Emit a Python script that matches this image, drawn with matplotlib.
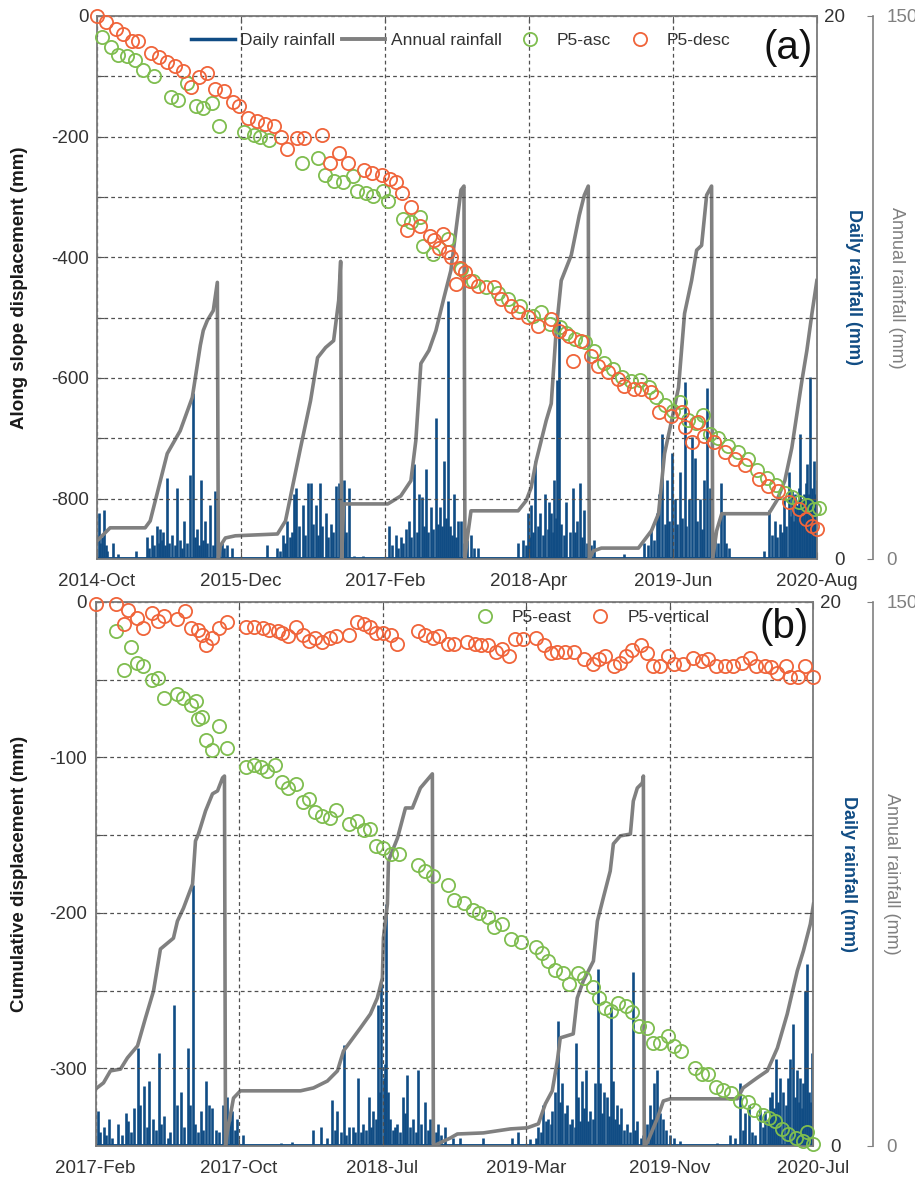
import matplotlib.pyplot as plt
import numpy as np
from matplotlib.lines import Line2D

plt.rcParams['font.family'] = ['Liberation Sans', 'DejaVu Sans']
plt.rcParams['axes.unicode_minus'] = False

BLUE = '#104c84'
GRAY = '#808080'
GREEN = '#7fbd4f'
ORANGE = '#f0643a'
INK = '#333333'

# ---------------- panel (a) data (x in decimal years) ----------------
a_xlim = (2014.75, 2020.583)
a_xlabels = ['2014-Oct', '2015-Dec', '2017-Feb', '2018-Apr', '2019-Jun', '2020-Aug']

a_asc = [(2014.79, -35), (2014.86, -51), (2014.92, -64), (2014.99, -66), (2015.06, -73), (2015.12, -89),
         (2015.21, -99), (2015.35, -134), (2015.41, -139), (2015.48, -111), (2015.55, -149), (2015.61, -152),
         (2015.68, -144), (2015.74, -183), (2015.94, -193), (2016.02, -197), (2016.07, -200), (2016.14, -205),
         (2016.41, -243), (2016.54, -236), (2016.60, -263), (2016.67, -274), (2016.74, -276), (2016.82, -266),
         (2016.86, -291), (2016.93, -293), (2016.99, -299), (2017.07, -291), (2017.11, -307), (2017.23, -337),
         (2017.29, -341), (2017.37, -334), (2017.39, -382), (2017.47, -395), (2017.59, -370), (2017.70, -420),
         (2017.80, -440), (2017.90, -450), (2018.00, -460), (2018.08, -470), (2018.18, -480), (2018.28, -498),
         (2018.35, -490), (2018.42, -510), (2018.50, -515), (2018.55, -525), (2018.62, -535), (2018.70, -540),
         (2018.78, -555), (2018.86, -575), (2018.93, -585), (2019.00, -598), (2019.08, -605), (2019.15, -603),
         (2019.22, -615), (2019.28, -632), (2019.35, -645), (2019.42, -655), (2019.47, -640), (2019.54, -670),
         (2019.60, -675), (2019.66, -662), (2019.72, -693), (2019.78, -700), (2019.86, -712), (2019.94, -722),
         (2020.02, -735), (2020.10, -752), (2020.18, -765), (2020.25, -778), (2020.32, -790), (2020.38, -798),
         (2020.44, -805), (2020.50, -810), (2020.56, -818), (2020.60, -815)]

a_desc = [(2014.75, 0), (2014.82, -10), (2014.90, -21), (2014.96, -30), (2015.03, -41), (2015.08, -41),
          (2015.19, -61), (2015.25, -68), (2015.32, -76), (2015.38, -83), (2015.45, -91), (2015.51, -117),
          (2015.58, -101), (2015.64, -94), (2015.71, -121), (2015.78, -124), (2015.85, -142), (2015.90, -150),
          (2015.97, -169), (2016.05, -174), (2016.11, -179), (2016.18, -182), (2016.24, -200), (2016.29, -220),
          (2016.37, -203), (2016.43, -203), (2016.57, -197), (2016.64, -243), (2016.71, -228), (2016.78, -243),
          (2016.91, -255), (2016.98, -260), (2017.06, -264), (2017.12, -271), (2017.17, -276), (2017.22, -293),
          (2017.26, -354), (2017.29, -316), (2017.37, -349), (2017.45, -365), (2017.48, -372), (2017.52, -385),
          (2017.55, -362), (2017.59, -392), (2017.62, -400), (2017.66, -445), (2017.69, -418), (2017.73, -425),
          (2017.77, -440), (2017.84, -448), (2017.97, -450), (2018.02, -470), (2018.10, -481), (2018.16, -491),
          (2018.24, -499), (2018.32, -514), (2018.43, -502), (2018.49, -522), (2018.57, -531), (2018.61, -572),
          (2018.67, -539), (2018.75, -564), (2018.81, -580), (2018.89, -590), (2018.97, -602), (2019.02, -613),
          (2019.10, -618), (2019.16, -618), (2019.24, -623), (2019.30, -656), (2019.40, -663), (2019.49, -656),
          (2019.51, -681), (2019.57, -706), (2019.62, -673), (2019.67, -696), (2019.75, -706), (2019.84, -722),
          (2019.92, -734), (2020.00, -745), (2020.11, -767), (2020.19, -779), (2020.27, -788), (2020.36, -805),
          (2020.44, -817), (2020.49, -833), (2020.54, -845), (2020.58, -850)]

a_rain = [(2014.766, 1.7), (2014.775, 0.6), (2014.790, 0.8), (2014.807, 1.8), (2014.820, 0.5), (2014.835, 0.3),
          (2014.880, 0.6), (2014.921, 0.2), (2015.067, 0.3), (2015.156, 0.8), (2015.175, 0.4), (2015.197, 0.9),
          (2015.215, 0.5), (2015.237, 1.2), (2015.250, 0.6), (2015.262, 1.1), (2015.275, 0.7), (2015.286, 1.0),
          (2015.300, 0.5), (2015.319, 3.0), (2015.335, 0.6), (2015.359, 0.9), (2015.380, 0.5), (2015.400, 2.6),
          (2015.420, 0.7), (2015.440, 0.4), (2015.457, 1.4), (2015.480, 0.6), (2015.505, 3.1), (2015.530, 6.1),
          (2015.545, 0.8), (2015.562, 1.1), (2015.580, 0.5), (2015.595, 2.9), (2015.610, 0.7), (2015.627, 1.4),
          (2015.645, 0.6), (2015.668, 2.0), (2015.690, 0.5), (2015.709, 2.5), (2015.740, 0.3), (2015.760, 0.6),
          (2015.780, 0.4), (2015.806, 0.5), (2015.847, 0.4), (2016.131, 0.5), (2016.212, 0.4), (2016.235, 0.3),
          (2016.253, 0.9), (2016.270, 0.6), (2016.293, 1.4), (2016.310, 0.8), (2016.330, 1.0), (2016.342, 2.4),
          (2016.355, 1.1), (2016.366, 2.6), (2016.390, 1.2), (2016.415, 2.0), (2016.435, 0.9), (2016.456, 2.8),
          (2016.480, 2.8), (2016.500, 1.3), (2016.521, 2.0), (2016.540, 0.9), (2016.553, 2.8), (2016.575, 1.2),
          (2016.602, 1.7), (2016.620, 0.8), (2016.643, 1.3), (2016.660, 1.0), (2016.683, 2.7), (2016.708, 2.8),
          (2016.728, 1.1), (2016.748, 2.9), (2016.770, 1.0), (2016.789, 2.6), (2016.830, 0.1), (2016.903, 0.1),
          (2017.114, 1.2), (2017.140, 0.5), (2017.171, 0.9), (2017.190, 0.4), (2017.211, 0.8), (2017.230, 0.6),
          (2017.252, 1.1), (2017.276, 1.4), (2017.295, 0.8), (2017.317, 3.5), (2017.340, 1.0), (2017.358, 2.4),
          (2017.382, 2.3), (2017.400, 1.2), (2017.414, 3.3), (2017.435, 1.0), (2017.455, 1.9), (2017.475, 1.1),
          (2017.496, 5.2), (2017.510, 1.3), (2017.528, 1.9), (2017.545, 1.2), (2017.561, 3.6), (2017.580, 1.5),
          (2017.593, 9.5), (2017.610, 1.2), (2017.625, 0.9), (2017.642, 2.4), (2017.660, 0.8), (2017.674, 1.4),
          (2017.699, 1.4), (2017.720, 0.6), (2017.750, 0.7), (2017.780, 0.9), (2017.805, 0.4), (2017.837, 0.4),
          (2018.000, 0.05), (2018.162, 0.6), (2018.203, 0.7), (2018.225, 0.5), (2018.243, 1.7), (2018.255, 0.8),
          (2018.267, 2.0), (2018.285, 1.0), (2018.300, 3.6), (2018.320, 1.2), (2018.341, 1.7), (2018.360, 0.9),
          (2018.381, 2.4), (2018.400, 1.1), (2018.414, 2.1), (2018.430, 1.7), (2018.443, 1.0), (2018.454, 2.9),
          (2018.468, 1.5), (2018.479, 6.6), (2018.495, 8.8), (2018.510, 1.3), (2018.530, 0.9), (2018.552, 2.1),
          (2018.580, 1.0), (2018.609, 2.6), (2018.625, 1.0), (2018.641, 1.4), (2018.665, 2.8), (2018.680, 0.8),
          (2018.698, 1.8), (2018.720, 0.6), (2018.750, 0.5), (2018.779, 0.7), (2018.860, 0.05), (2019.023, 0.2),
          (2019.185, 0.6), (2019.215, 0.5), (2019.242, 1.1), (2019.260, 0.7), (2019.283, 1.7), (2019.307, 2.4),
          (2019.331, 4.6), (2019.350, 1.3), (2019.364, 2.9), (2019.385, 1.4), (2019.405, 3.9), (2019.429, 2.2),
          (2019.450, 1.3), (2019.470, 3.2), (2019.490, 1.5), (2019.510, 6.5), (2019.525, 1.2), (2019.543, 2.2),
          (2019.567, 4.5), (2019.591, 3.7), (2019.610, 1.4), (2019.632, 2.2), (2019.650, 1.1), (2019.664, 2.9),
          (2019.689, 6.3), (2019.713, 2.6), (2019.735, 0.8), (2019.754, 0.9), (2019.780, 0.6), (2019.803, 2.8),
          (2019.827, 1.7), (2019.845, 0.6), (2019.868, 0.4), (2020.152, 0.3), (2020.192, 1.8), (2020.217, 0.9),
          (2020.241, 1.4), (2020.260, 0.8), (2020.282, 1.3), (2020.300, 1.0), (2020.314, 2.3), (2020.330, 1.2),
          (2020.355, 3.2), (2020.370, 1.6), (2020.379, 2.5), (2020.395, 1.4), (2020.403, 2.4), (2020.420, 2.0),
          (2020.435, 2.6), (2020.444, 4.6), (2020.460, 2.2), (2020.476, 2.4), (2020.490, 2.8), (2020.501, 3.5),
          (2020.515, 2.4), (2020.525, 6.7), (2020.540, 2.6), (2020.558, 3.6), (2020.570, 2.4), (2020.580, 2.9)]

a_annual = [(2014.750, 50), (2014.774, 58), (2014.856, 86), (2015.140, 86), (2015.181, 105), (2015.319, 291),
            (2015.424, 354), (2015.522, 446), (2015.587, 590), (2015.611, 631), (2015.644, 659), (2015.692, 686),
            (2015.725, 764), (2015.733, 0),
            (2015.749, 36), (2015.790, 58), (2015.871, 64), (2016.212, 69), (2016.277, 105), (2016.399, 307),
            (2016.480, 437), (2016.537, 556), (2016.602, 584), (2016.667, 603), (2016.708, 714), (2016.724, 822),
            (2016.732, 0),
            (2016.748, 152), (2017.106, 152), (2017.211, 174), (2017.293, 216), (2017.333, 327), (2017.374, 540),
            (2017.439, 576), (2017.496, 631), (2017.561, 722), (2017.617, 797), (2017.658, 908), (2017.699, 1019),
            (2017.723, 1030), (2017.731, 0),
            (2017.747, 50), (2017.780, 133), (2018.162, 133), (2018.227, 161), (2018.267, 197), (2018.308, 271),
            (2018.389, 382), (2018.430, 429), (2018.470, 631), (2018.511, 769), (2018.592, 839), (2018.657, 949),
            (2018.698, 1005), (2018.730, 1030), (2018.738, 0),
            (2018.771, 22), (2018.836, 30), (2019.136, 30), (2019.242, 78), (2019.299, 125), (2019.348, 291),
            (2019.405, 382), (2019.461, 473), (2019.510, 678), (2019.567, 769), (2019.608, 853), (2019.648, 866),
            (2019.689, 1005), (2019.729, 1030), (2019.738, 0),
            (2019.770, 78), (2019.811, 125), (2020.192, 125), (2020.257, 161), (2020.322, 216), (2020.379, 307),
            (2020.461, 493), (2020.501, 576), (2020.542, 678), (2020.582, 769)]

# ---------------- panel (b) data ----------------
b_xlim = (2017.083, 2020.5)
b_xlabels = ['2017-Feb', '2017-Oct', '2018-Jul', '2019-Mar', '2019-Nov', '2020-Jul']

b_east = [(2017.18, -19), (2017.22, -44), (2017.25, -29), (2017.28, -39), (2017.31, -41), (2017.35, -50),
          (2017.38, -49), (2017.41, -62), (2017.47, -59), (2017.50, -62), (2017.54, -66), (2017.56, -64),
          (2017.57, -75), (2017.59, -74), (2017.61, -89), (2017.64, -95), (2017.67, -80), (2017.71, -94),
          (2017.80, -106), (2017.84, -105), (2017.87, -106), (2017.90, -109), (2017.94, -105), (2017.97, -116),
          (2018.00, -120), (2018.04, -117), (2018.07, -129), (2018.10, -127), (2018.13, -135), (2018.16, -138),
          (2018.20, -139), (2018.23, -134), (2018.29, -143), (2018.33, -141), (2018.36, -147), (2018.39, -146),
          (2018.42, -157), (2018.45, -158), (2018.49, -162), (2018.53, -162), (2018.62, -169), (2018.65, -173),
          (2018.69, -176), (2018.76, -182), (2018.79, -192), (2018.84, -194), (2018.88, -198), (2018.91, -200),
          (2018.95, -203), (2018.98, -209), (2019.02, -207), (2019.06, -217), (2019.11, -219), (2019.18, -222),
          (2019.21, -226), (2019.24, -231), (2019.27, -237), (2019.31, -239), (2019.34, -246), (2019.38, -239),
          (2019.41, -242), (2019.45, -248), (2019.48, -255), (2019.51, -261), (2019.54, -263), (2019.57, -258),
          (2019.61, -260), (2019.64, -264), (2019.67, -273), (2019.71, -274), (2019.74, -284), (2019.77, -284),
          (2019.81, -279), (2019.84, -286), (2019.87, -289), (2019.94, -300), (2019.97, -304), (2020.00, -304),
          (2020.04, -312), (2020.07, -314), (2020.11, -316), (2020.15, -321), (2020.19, -322), (2020.22, -327),
          (2020.26, -330), (2020.29, -332), (2020.32, -334), (2020.35, -339), (2020.38, -342), (2020.42, -345),
          (2020.45, -347), (2020.47, -341), (2020.50, -349)]

b_vert = [(2017.083, -1), (2017.18, -1), (2017.22, -14), (2017.24, -5), (2017.28, -10), (2017.31, -17),
          (2017.35, -7), (2017.38, -12), (2017.41, -9), (2017.47, -11), (2017.51, -6), (2017.54, -17),
          (2017.57, -18), (2017.59, -21), (2017.61, -28), (2017.64, -23), (2017.67, -17), (2017.71, -13),
          (2017.80, -16), (2017.84, -16), (2017.88, -17), (2017.91, -18), (2017.95, -19), (2017.97, -20),
          (2018.00, -22), (2018.04, -16), (2018.07, -21), (2018.10, -25), (2018.13, -23), (2018.16, -26),
          (2018.20, -23), (2018.23, -22), (2018.29, -21), (2018.33, -13), (2018.36, -14), (2018.39, -16),
          (2018.42, -20), (2018.45, -20), (2018.49, -21), (2018.52, -27), (2018.62, -19), (2018.65, -21),
          (2018.69, -23), (2018.72, -22), (2018.76, -27), (2018.79, -27), (2018.85, -26), (2018.89, -27),
          (2018.92, -28), (2018.95, -28), (2018.99, -32), (2019.02, -30), (2019.05, -35), (2019.08, -24),
          (2019.12, -24), (2019.18, -23), (2019.22, -28), (2019.25, -33), (2019.28, -32), (2019.32, -32),
          (2019.36, -32), (2019.41, -37), (2019.45, -40), (2019.48, -37), (2019.51, -35), (2019.55, -41),
          (2019.58, -39), (2019.61, -35), (2019.64, -31), (2019.68, -28), (2019.71, -33), (2019.74, -41),
          (2019.77, -41), (2019.81, -35), (2019.84, -40), (2019.88, -40), (2019.93, -36), (2019.97, -38),
          (2020.00, -37), (2020.04, -41), (2020.08, -41), (2020.12, -41), (2020.16, -39), (2020.20, -36),
          (2020.23, -41), (2020.27, -41), (2020.30, -42), (2020.33, -46), (2020.37, -41), (2020.39, -48),
          (2020.43, -48), (2020.46, -41), (2020.50, -48)]

b_rain = [(2017.093, 1.3), (2017.105, 0.5), (2017.121, 0.7), (2017.135, 0.4), (2017.145, 1.0), (2017.160, 0.3),
          (2017.192, 0.8), (2017.210, 0.4), (2017.226, 1.2), (2017.240, 0.9), (2017.252, 0.5), (2017.264, 1.4),
          (2017.283, 3.6), (2017.297, 1.5), (2017.316, 2.2), (2017.328, 0.7), (2017.340, 2.4), (2017.359, 1.0),
          (2017.370, 0.6), (2017.383, 3.4), (2017.395, 0.8), (2017.407, 1.1), (2017.426, 0.3), (2017.440, 0.5),
          (2017.459, 5.2), (2017.473, 1.5), (2017.492, 2.0), (2017.505, 0.7), (2017.521, 3.6), (2017.535, 1.5),
          (2017.549, 9.6), (2017.559, 0.8), (2017.570, 0.5), (2017.583, 1.3), (2017.595, 0.6), (2017.607, 2.4),
          (2017.621, 1.5), (2017.640, 1.4), (2017.655, 0.6), (2017.669, 0.5), (2017.688, 1.5), (2017.700, 0.7),
          (2017.711, 1.8), (2017.722, 0.9), (2017.735, 1.3), (2017.745, 0.6), (2017.759, 1.0), (2017.783, 0.4),
          (2017.964, 0.1), (2018.021, 0.15), (2018.121, 0.6), (2018.159, 0.7), (2018.185, 0.3), (2018.211, 1.7),
          (2018.222, 0.6), (2018.235, 1.3), (2018.250, 0.5), (2018.264, 3.7), (2018.275, 0.4), (2018.288, 0.7),
          (2018.307, 0.7), (2018.320, 0.5), (2018.335, 2.5), (2018.347, 0.5), (2018.359, 0.8), (2018.370, 0.6),
          (2018.383, 1.8), (2018.395, 0.7), (2018.406, 1.3), (2018.418, 1.0), (2018.430, 5.2), (2018.437, 2.0),
          (2018.444, 6.0), (2018.455, 2.5), (2018.461, 3.0), (2018.468, 8.9), (2018.476, 2.0), (2018.487, 1.0),
          (2018.500, 0.6), (2018.510, 0.7), (2018.521, 0.8), (2018.535, 0.5), (2018.549, 1.8), (2018.558, 1.2),
          (2018.568, 2.6), (2018.582, 0.7), (2018.597, 1.0), (2018.608, 0.5), (2018.620, 2.8), (2018.635, 0.8),
          (2018.654, 1.6), (2018.666, 0.6), (2018.678, 1.0), (2018.690, 0.6), (2018.705, 0.5), (2018.716, 0.8),
          (2018.730, 0.4), (2018.749, 0.7), (2018.787, 0.3), (2018.820, 0.3), (2018.930, 0.3), (2019.068, 0.3),
          (2019.097, 0.5), (2019.154, 0.25), (2019.180, 0.3), (2019.192, 0.7), (2019.205, 0.5), (2019.216, 1.5),
          (2019.228, 0.9), (2019.240, 1.0), (2019.250, 0.8), (2019.259, 1.3), (2019.273, 2.0), (2019.287, 4.6),
          (2019.296, 1.6), (2019.306, 2.3), (2019.318, 1.2), (2019.330, 1.5), (2019.342, 0.8), (2019.354, 1.0),
          (2019.365, 0.7), (2019.373, 3.8), (2019.382, 1.8), (2019.392, 0.9), (2019.401, 2.4), (2019.410, 1.4),
          (2019.420, 2.8), (2019.430, 0.9), (2019.439, 1.3), (2019.450, 1.0), (2019.463, 2.3), (2019.477, 6.5),
          (2019.487, 2.3), (2019.496, 1.2), (2019.506, 2.0), (2019.520, 1.8), (2019.530, 1.1), (2019.539, 5.1),
          (2019.549, 2.4), (2019.558, 1.0), (2019.568, 1.5), (2019.578, 0.8), (2019.587, 1.4), (2019.600, 0.6),
          (2019.615, 0.8), (2019.630, 0.5), (2019.644, 6.4), (2019.652, 0.6), (2019.663, 0.9), (2019.680, 0.3),
          (2019.692, 0.4), (2019.708, 0.8), (2019.725, 1.5), (2019.735, 1.0), (2019.744, 2.3), (2019.759, 2.8),
          (2019.770, 1.2), (2019.783, 1.0), (2019.800, 0.6), (2019.820, 0.4), (2019.840, 0.3), (2019.868, 0.2),
          (2020.044, 0.1), (2020.106, 0.4), (2020.130, 0.3), (2020.154, 2.3), (2020.165, 0.6), (2020.177, 1.2),
          (2020.196, 1.5), (2020.210, 0.5), (2020.225, 0.4), (2020.249, 1.4), (2020.260, 0.7), (2020.273, 1.3),
          (2020.285, 0.9), (2020.296, 1.8), (2020.306, 2.0), (2020.315, 1.4), (2020.325, 3.2), (2020.335, 1.6),
          (2020.344, 2.5), (2020.358, 2.0), (2020.370, 1.5), (2020.382, 2.5), (2020.391, 3.2), (2020.406, 4.5),
          (2020.415, 1.8), (2020.425, 2.8), (2020.432, 1.6), (2020.439, 2.5), (2020.446, 1.4), (2020.454, 2.3),
          (2020.463, 5.7), (2020.472, 6.7), (2020.480, 2.0), (2020.489, 1.6), (2020.496, 3.4)]

b_annual = [(2017.083, 157), (2017.121, 174), (2017.154, 207), (2017.202, 212), (2017.235, 243), (2017.283, 276),
            (2017.321, 353), (2017.359, 427), (2017.392, 543), (2017.454, 573), (2017.473, 620), (2017.502, 656),
            (2017.545, 722), (2017.559, 841), (2017.573, 860), (2017.607, 924), (2017.640, 971), (2017.664, 979),
            (2017.688, 1015), (2017.697, 1020), (2017.702, 0),
            (2017.711, 40), (2017.740, 132), (2017.773, 152), (2018.059, 152), (2018.121, 160), (2018.187, 179),
            (2018.235, 207), (2018.264, 262), (2018.344, 325), (2018.392, 364), (2018.425, 408), (2018.449, 463),
            (2018.454, 574), (2018.473, 667), (2018.478, 786), (2018.521, 849), (2018.559, 932), (2018.592, 932),
            (2018.630, 987), (2018.687, 1026), (2018.692, 0),
            (2018.773, 22), (2018.806, 33), (2018.930, 36), (2019.058, 47), (2019.139, 50), (2019.192, 61),
            (2019.225, 116), (2019.258, 152), (2019.282, 234), (2019.296, 298), (2019.358, 309), (2019.377, 408),
            (2019.406, 455), (2019.454, 510), (2019.473, 620), (2019.501, 684), (2019.534, 758), (2019.549, 833),
            (2019.582, 855), (2019.630, 860), (2019.644, 951), (2019.663, 987), (2019.687, 1001), (2019.692, 1020),
            (2019.696, 0),
            (2019.711, 10), (2019.759, 77), (2019.787, 124), (2019.820, 130), (2020.139, 130), (2020.167, 160),
            (2020.234, 188), (2020.282, 207), (2020.330, 270), (2020.377, 364), (2020.425, 483), (2020.454, 538),
            (2020.487, 612), (2020.502, 667)]

fig = plt.figure(figsize=(9.15, 11.78), dpi=100)


def panel(rect, xlim, xlabels, ylim, yticks, label_every, rain, annual, series, names,
          ylabel, tag, tag_y, leg_xy, rain_in_legend, outward, ylab_x):
    # daily rainfall (bottom layer)
    ax_r = fig.add_axes(rect)
    t, v = zip(*rain)
    ax_r.vlines(t, 0, v, color=BLUE, lw=1.9)
    ax_r.axhline(0, color=BLUE, lw=3.5)
    ax_r.set_xlim(xlim)
    ax_r.set_ylim(0, 20)
    ax_r.set_xticks([])
    for s in ax_r.spines.values():
        s.set_visible(False)

    # annual rainfall (offset right axis)
    ax_a = ax_r.twinx()
    t, v = zip(*annual)
    ax_a.plot(t, v, color=GRAY, lw=2.6)
    ax_a.set_ylim(0, 1500)
    ax_a.set_yticks([0, 1500])
    ax_a.spines['right'].set_position(('outward', outward))
    ax_a.spines['right'].set_color(GRAY)
    ax_a.spines['right'].set_linewidth(1.2)
    for k in ('left', 'top', 'bottom'):
        ax_a.spines[k].set_visible(False)
    ax_a.tick_params(axis='y', direction='in', length=4, color=GRAY, pad=10,
                     labelsize=13.5, labelcolor=GRAY)

    # rain ticks on the right (twinx moved them left)
    ax_r.yaxis.tick_right()
    ax_r.set_yticks([0, 20])
    ax_r.tick_params(axis='y', which='both', left=False, labelleft=False, right=True, labelright=True,
                     direction='in', length=0, pad=20, labelsize=13.5, labelcolor=INK)
    plt.setp(ax_r.get_yticklabels(), ha='right')

    # displacement (top layer)
    ax_d = fig.add_axes(rect, facecolor='none')
    handles = []
    for pts, col, name in zip(series, [GREEN, ORANGE], names):
        t, v = zip(*pts)
        h, = ax_d.plot(t, v, 'o', ms=9.5, mfc='none', mec=col, mew=1.3,
                       clip_on=False, label=name, zorder=3)
        handles.append(h)
    ax_d.set_xlim(xlim)
    ax_d.set_ylim(ylim)
    ax_d.set_xticks(np.linspace(xlim[0], xlim[1], 6))
    ax_d.set_xticklabels(xlabels)
    ax_d.set_yticks(yticks)
    ax_d.set_yticklabels([str(int(y)) if y % label_every == 0 else '' for y in yticks])
    ax_d.tick_params(axis='both', direction='in', length=5, top=True, right=True,
                     labelsize=13.5, labelcolor=INK, color='#555555')
    ax_d.tick_params(axis='x', pad=10)
    ax_d.tick_params(axis='y', pad=6)
    ax_d.grid(True, ls=(0, (3, 2.5)), color='#505050', lw=0.9)
    for s in ax_d.spines.values():
        s.set_color('#7a7a7a')
        s.set_linewidth(1.3)

    ax_d.text(ylab_x, 0.5, ylabel, transform=ax_d.transAxes, rotation=90, ha='center',
              va='center', fontsize=13.5, fontweight='bold', color='#1a1a1a')
    ax_d.text(1.05, 0.5, 'Daily rainfall (mm)', transform=ax_d.transAxes, rotation=270,
              ha='center', va='center', fontsize=13, fontweight='bold', color=BLUE)
    ax_d.text(1.11, 0.5, 'Annual rainfall (mm)', transform=ax_d.transAxes, rotation=270,
              ha='center', va='center', fontsize=13, color=GRAY)
    ax_d.text(0.994, tag_y, tag, transform=ax_d.transAxes, ha='right', va='center',
              fontsize=29, color='#111111')

    if rain_in_legend:
        rain_h = Line2D([], [], color=BLUE, lw=2.5)
        ann_h = Line2D([], [], color=GRAY, lw=2.8)
        leg_h = [rain_h, ann_h] + handles
        leg_l = ['Daily rainfall', 'Annual rainfall'] + names
    else:
        leg_h, leg_l = handles, names
    ax_d.legend(leg_h, leg_l, loc='center', bbox_to_anchor=leg_xy, ncol=len(leg_h),
                frameon=False, fontsize=12.5, handlelength=2.5, handletextpad=0.3,
                columnspacing=0.4, numpoints=1, labelcolor=INK)
    return ax_d


panel([0.1060, 0.5255, 0.7869, 0.4610], a_xlim, a_xlabels, (-900, 0),
      np.arange(-800, 1, 100), 200, a_rain, a_annual, [a_asc, a_desc], ['P5-asc', 'P5-desc'],
      'Along slope displacement (mm)', '(a)', 0.941, (0.5056, 0.954), True, 40, -0.107)

panel([0.1044, 0.0272, 0.7842, 0.4618], b_xlim, b_xlabels, (-350, 0),
      np.arange(-300, 1, 50), 100, b_rain, b_annual, [b_east, b_vert], ['P5-east', 'P5-vertical'],
      'Cumulative displacement (mm)', '(b)', 0.954, (0.684, 0.971), False, 43, -0.106)

fig.savefig('out.png', dpi=100, facecolor='white')
